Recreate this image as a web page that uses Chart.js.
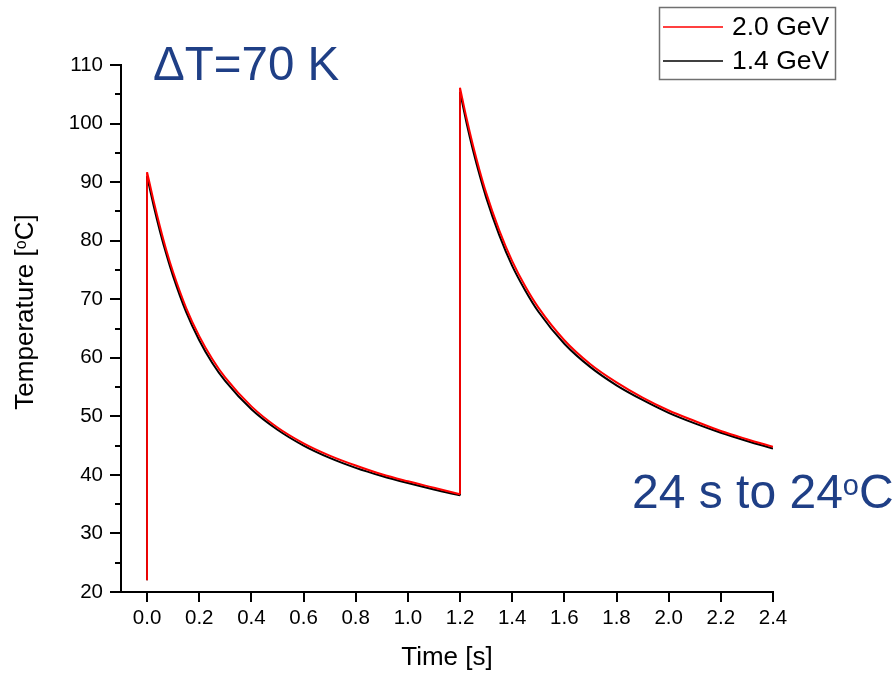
<!DOCTYPE html>
<html lang="en">
<head>
<meta charset="UTF-8">
<title>Temperature vs time</title>
<script src="https://cdn.jsdelivr.net/npm/chart.js@4/dist/chart.umd.min.js"></script>
<style>
  * { margin: 0; padding: 0; box-sizing: border-box; }
  body { background: #fff; }
  #wrap { position: relative; width: 896px; height: 675px; }
</style>
</head>
<body>
<div id="wrap"><canvas id="chart"></canvas></div>
<script>
// ── Data ────────────────────────────────────────────────────────────────────
const time = [0, 0, 0.025, 0.05, 0.075, 0.1, 0.15, 0.2, 0.25, 0.3, 0.4, 0.5, 0.6, 0.7, 0.8, 0.9, 1.0, 1.1, 1.2,
              1.2, 1.225, 1.25, 1.275, 1.3, 1.35, 1.4, 1.45, 1.5, 1.6, 1.7, 1.8, 1.9, 2.0, 2.1, 2.2, 2.3, 2.4];
const temp20 = [22, 91.7, 86.8, 82.3, 78.2, 74.6, 68.5, 63.7, 59.8, 56.6, 51.7, 48.1, 45.4, 43.3, 41.6, 40.1, 38.9, 37.8, 36.7,
                106.1, 100.9, 96.2, 92.0, 88.2, 81.8, 76.5, 72.2, 68.6, 63.0, 58.9, 55.8, 53.2, 51.0, 49.2, 47.5, 46.1, 44.8];
const temp14 = [22, 91.0, 86.0, 81.5, 77.5, 73.9, 67.8, 63.0, 59.1, 56.0, 51.2, 47.7, 45.0, 42.9, 41.2, 39.8, 38.6, 37.5, 36.5,
                105.4, 100.1, 95.4, 91.2, 87.4, 81.0, 75.7, 71.5, 67.9, 62.4, 58.4, 55.3, 52.8, 50.6, 48.8, 47.2, 45.8, 44.5];
const seriesLabels = ['2.0 GeV', '1.4 GeV'];
const seriesColors = ['#ff0000', '#000000'];
const xTicks = [0, 0.2, 0.4, 0.6, 0.8, 1.0, 1.2, 1.4, 1.6, 1.8, 2.0, 2.2, 2.4];
const yTicks = [20, 30, 40, 50, 60, 70, 80, 90, 100, 110];
const yMinor = [25, 35, 45, 55, 65, 75, 85, 95, 105];
// index ranges (inclusive) of the smooth cooling parts and the vertical heating jumps
const decaySegs = [[1, 18], [19, 36]];
const jumpSegs = [[0, 1], [18, 19]];

const FONT = "'Liberation Sans', Arial, sans-serif";
const BLUE = '#1f3f86';

// ── Split each trace into smooth decays and vertical jumps ──────────────────
function segPoints(ys, segs) {
  const pts = [];
  segs.forEach(([a, b], k) => {
    if (k > 0) pts.push({ x: time[a], y: null });
    for (let i = a; i <= b; i++) pts.push({ x: time[i], y: ys[i] });
  });
  return pts;
}

const datasets = [];
[temp20, temp14].forEach((ys, s) => {
  datasets.push({
    label: seriesLabels[s], data: segPoints(ys, decaySegs), borderColor: seriesColors[s],
    borderWidth: 2, cubicInterpolationMode: 'monotone', spanGaps: false,
  });
  datasets.push({
    data: segPoints(ys, jumpSegs), borderColor: seriesColors[s], borderWidth: 1.8,
    tension: 0, spanGaps: false,
  });
});

// ── Plugins: minor ticks, framed legend, annotations ────────────────────────
const minorTicks = {
  id: 'minorTicks',
  afterDraw(chart) {
    const { ctx } = chart;
    const y = chart.scales.y;
    ctx.save();
    ctx.strokeStyle = '#000';
    ctx.lineWidth = 2;
    yMinor.forEach((v) => {
      const py = Math.round(y.getPixelForValue(v));
      ctx.beginPath();
      ctx.moveTo(y.right - 6, py);
      ctx.lineTo(y.right, py);
      ctx.stroke();
    });
    ctx.restore();
  },
};

const boxLegend = {
  id: 'boxLegend',
  afterDraw(chart) {
    const { ctx } = chart;
    ctx.save();
    ctx.strokeStyle = '#707070';
    ctx.lineWidth = 1.5;
    ctx.strokeRect(659.5, 7.5, 176, 72);
    ctx.font = `26.5px ${FONT}`;
    ctx.textBaseline = 'middle';
    ctx.fillStyle = '#000';
    chart.data.datasets.filter((ds) => ds.label).forEach((ds, i) => {
      const cy = 27 + i * 34;
      ctx.strokeStyle = ds.borderColor;
      ctx.lineWidth = 1.5;
      ctx.beginPath();
      ctx.moveTo(663, cy);
      ctx.lineTo(723, cy);
      ctx.stroke();
      ctx.fillText(ds.label, 732, cy + 1);
    });
    ctx.restore();
  },
};

function textWithSup(ctx, parts, x, y, size) {
  // parts: [text, superscript, text]
  let cx = x;
  ctx.font = `${size}px ${FONT}`;
  ctx.fillText(parts[0], cx, y);
  cx += ctx.measureText(parts[0]).width;
  ctx.font = `${Math.round(size * 0.6)}px ${FONT}`;
  ctx.fillText(parts[1], cx, y - size * 0.28);
  cx += ctx.measureText(parts[1]).width;
  ctx.font = `${size}px ${FONT}`;
  ctx.fillText(parts[2], cx, y);
}

function widthWithSup(ctx, parts, size) {
  ctx.font = `${size}px ${FONT}`;
  const w = ctx.measureText(parts[0]).width + ctx.measureText(parts[2]).width;
  ctx.font = `${Math.round(size * 0.6)}px ${FONT}`;
  return w + ctx.measureText(parts[1]).width;
}

const annotations = {
  id: 'annotations',
  afterDraw(chart) {
    const { ctx } = chart;
    ctx.save();
    ctx.textBaseline = 'alphabetic';
    ctx.fillStyle = BLUE;
    ctx.font = `47.5px ${FONT}`;
    ctx.fillText('\u0394T=70 K', 153, 80);
    textWithSup(ctx, ['24 s to 24', 'o', 'C'], 632, 508, 48);

    // y axis title with superscript o
    const parts = ['Temperature [', 'o', 'C]'];
    const w = widthWithSup(ctx, parts, 26);
    ctx.fillStyle = '#000';
    ctx.translate(33, 312);
    ctx.rotate(-Math.PI / 2);
    textWithSup(ctx, parts, -w / 2, 0, 26);
    ctx.restore();
  },
};

// ── Chart ───────────────────────────────────────────────────────────────────
new Chart(document.getElementById('chart'), {
  type: 'line',
  data: { datasets },
  options: {
    responsive: true,
    maintainAspectRatio: false,
    animation: false,
    layout: { padding: { left: 0, top: 65, right: 123, bottom: 0 } },
    elements: { point: { radius: 0 }, line: { fill: false, borderJoinStyle: 'round' } },
    plugins: { legend: { display: false }, tooltip: { enabled: false } },
    scales: {
      x: {
        type: 'linear',
        min: -0.1,
        max: 2.4,
        afterBuildTicks: (s) => { s.ticks = xTicks.map((v) => ({ value: v })); },
        afterFit: (s) => { s.height = 83; },
        ticks: {
          color: '#000',
          font: { family: FONT, size: 20.5 },
          padding: 4,
          maxRotation: 0,
          callback: (v) => Number(v).toFixed(1),
        },
        grid: { drawOnChartArea: false, drawTicks: true, tickLength: 10, lineWidth: 2, color: '#000' },
        border: { display: true, color: '#000', width: 2 },
        title: {
          display: true,
          text: 'Time [s]',
          color: '#000',
          font: { family: FONT, size: 26 },
          padding: { top: 0, bottom: 2 },
        },
      },
      y: {
        type: 'linear',
        min: 20,
        max: 110,
        afterBuildTicks: (s) => { s.ticks = yTicks.map((v) => ({ value: v })); },
        afterFit: (s) => { s.width = 121; },
        ticks: {
          color: '#000',
          font: { family: FONT, size: 20.5 },
          padding: 7,
        },
        grid: { drawOnChartArea: false, drawTicks: true, tickLength: 11, lineWidth: 2, color: '#000' },
        border: { display: true, color: '#000', width: 2 },
      },
    },
  },
  plugins: [minorTicks, boxLegend, annotations],
});
</script>
</body>
</html>
